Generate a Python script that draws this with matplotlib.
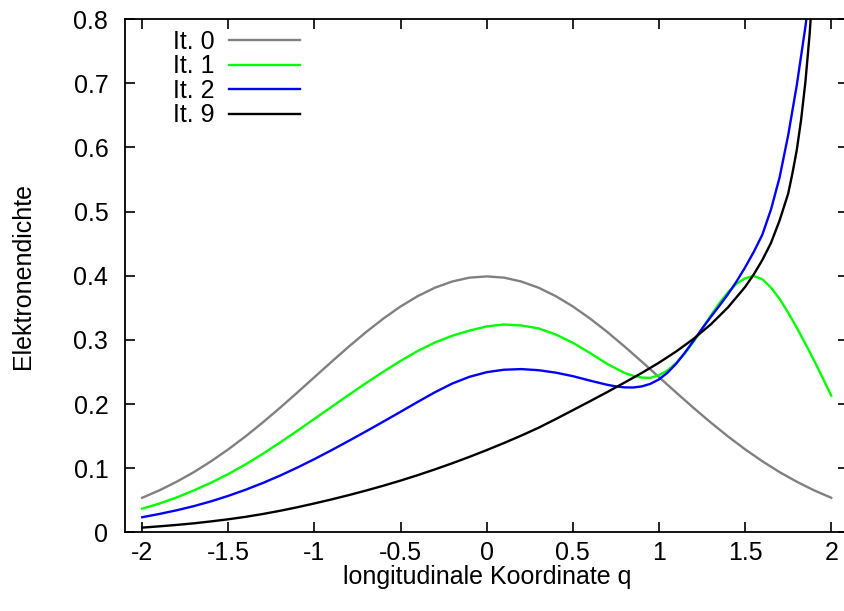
# Elektronendichte nach mehreren Iterationen
import matplotlib
matplotlib.use('Agg')
import matplotlib.pyplot as plt
from matplotlib.ticker import FuncFormatter

plt.rcParams['font.family'] = ['Liberation Sans', 'DejaVu Sans']
plt.rcParams['axes.unicode_minus'] = False

# q grid, step 0.1 from -2 to 2
q = [-2.0, -1.9, -1.8, -1.7, -1.6, -1.5, -1.4, -1.3, -1.2, -1.1,
     -1.0, -0.9, -0.8, -0.7, -0.6, -0.5, -0.4, -0.3, -0.2, -0.1,
     0.0, 0.1, 0.2, 0.3, 0.4, 0.5, 0.6, 0.7, 0.8, 0.9,
     1.0, 1.1, 1.2, 1.3, 1.4, 1.5, 1.6, 1.7, 1.8, 1.9, 2.0]
# finer steps on the right where the curves bend
q_fine = [0.85, 0.9, 0.95, 1.0, 1.05, 1.1, 1.15, 1.2, 1.25, 1.3, 1.35, 1.4,
          1.45, 1.5, 1.55, 1.6, 1.65, 1.7, 1.75, 1.8, 1.85, 1.9, 1.95, 2.0]

# It. 0
it0 = [0.0540, 0.0656, 0.0790, 0.0940, 0.1109, 0.1295, 0.1497, 0.1714, 0.1942, 0.2179,
       0.2420, 0.2661, 0.2897, 0.3123, 0.3332, 0.3521, 0.3683, 0.3814, 0.3910, 0.3970,
       0.3989, 0.3970, 0.3910, 0.3814, 0.3683, 0.3521, 0.3332, 0.3123, 0.2897, 0.2661,
       0.2420, 0.2179, 0.1942, 0.1714, 0.1497, 0.1295, 0.1109, 0.0940, 0.0790, 0.0656, 0.0540]

# It. 1
q1 = q[:29] + q_fine
it1 = [0.0370, 0.0450, 0.0545, 0.0655, 0.0775, 0.0910, 0.1060, 0.1225, 0.1400, 0.1583,
       0.1770, 0.1958, 0.2145, 0.2328, 0.2505, 0.2673, 0.2828, 0.2960, 0.3065, 0.3145,
       0.3210, 0.3240, 0.3225, 0.3180, 0.3085, 0.2955, 0.2795, 0.2625, 0.2485,
       0.2440, 0.2413, 0.2408, 0.2450, 0.2525, 0.2640, 0.2790, 0.2970, 0.3170, 0.3375,
       0.3570, 0.3740, 0.3875, 0.3960, 0.3995, 0.3945, 0.3815, 0.3640, 0.3425, 0.3190,
       0.2940, 0.2680, 0.2410, 0.2130]

# It. 2
q2 = q[:27] + [0.7, 0.75, 0.8] + q_fine[:-1]
it2 = [0.0237, 0.0288, 0.0345, 0.0410, 0.0485, 0.0570, 0.0665, 0.0770, 0.0885, 0.1010,
       0.1143, 0.1283, 0.1428, 0.1576, 0.1727, 0.1880, 0.2035, 0.2185, 0.2320, 0.2425,
       0.2497, 0.2535, 0.2545, 0.2528, 0.2490, 0.2435, 0.2365, 0.2300, 0.2275, 0.2260,
       0.2258, 0.2275, 0.2315, 0.2385, 0.2490, 0.2630, 0.2800, 0.2985, 0.3175, 0.3355,
       0.3530, 0.3710, 0.3910, 0.4130, 0.4370, 0.4640, 0.5030, 0.5530, 0.6190, 0.6970,
       0.7880, 0.8950, 1.0200]

# It. 9
q9 = q[:36] + [1.55, 1.6, 1.65, 1.7, 1.75, 1.775, 1.8, 1.825, 1.85, 1.875, 1.9, 1.925]
it9 = [0.0075, 0.0095, 0.0117, 0.0142, 0.0172, 0.0205, 0.0243, 0.0287, 0.0337, 0.0392,
       0.0452, 0.0515, 0.0582, 0.0653, 0.0728, 0.0808, 0.0893, 0.0983, 0.1078, 0.1178,
       0.1283, 0.1393, 0.1508, 0.1630, 0.1765, 0.1905, 0.2045, 0.2188, 0.2335, 0.2485,
       0.2645, 0.2820, 0.3015, 0.3240, 0.3505, 0.3825, 0.4020, 0.4245, 0.4510, 0.4860,
       0.5280, 0.5600, 0.5960, 0.6430, 0.7020, 0.7780, 0.8800, 1.0200]

fs = 18
fig = plt.figure(figsize=(8.44, 6.11), dpi=100)
ax = fig.add_axes([0.1481, 0.1286, 0.8572, 0.8403])

lw = 1.7
ax.plot(q, it0, color='#808080', lw=lw, label='It. 0')
ax.plot(q1, it1, color='#00ff00', lw=lw, label='It. 1')
ax.plot(q2, it2, color='#0000ff', lw=lw, label='It. 2')
ax.plot(q9, it9, color='black', lw=lw, label='It. 9')

ax.set_xlim(-2.1, 2.1)
ax.set_ylim(0, 0.8)
ax.set_xticks([-2, -1.5, -1, -0.5, 0, 0.5, 1, 1.5, 2])
ax.set_yticks([0, 0.1, 0.2, 0.3, 0.4, 0.5, 0.6, 0.7, 0.8])
fmt = FuncFormatter(lambda v, p: '%g' % round(v, 2))
ax.xaxis.set_major_formatter(fmt)
ax.yaxis.set_major_formatter(fmt)

ax.tick_params(axis='both', direction='in', length=7, width=1.2,
               top=True, right=True, labelsize=fs)
ax.tick_params(axis='x', pad=6)
ax.tick_params(axis='y', pad=12)
for s in ax.spines.values():
    s.set_linewidth(1.3)

ax.set_xlabel('longitudinale Koordinate q', fontsize=fs, va='center')
ax.set_ylabel('Elektronendichte', fontsize=fs, va='center')
ax.xaxis.set_label_coords(0.5, -0.087)
ax.yaxis.set_label_coords(-0.141, 0.5)

ax.legend(loc='upper left', bbox_to_anchor=(0.066, 0.979), frameon=False,
          markerfirst=False, fontsize=fs, handlelength=2.84, handletextpad=0.6,
          labelspacing=0.02, borderpad=0, borderaxespad=0)

fig.savefig('out.png', dpi=100)
